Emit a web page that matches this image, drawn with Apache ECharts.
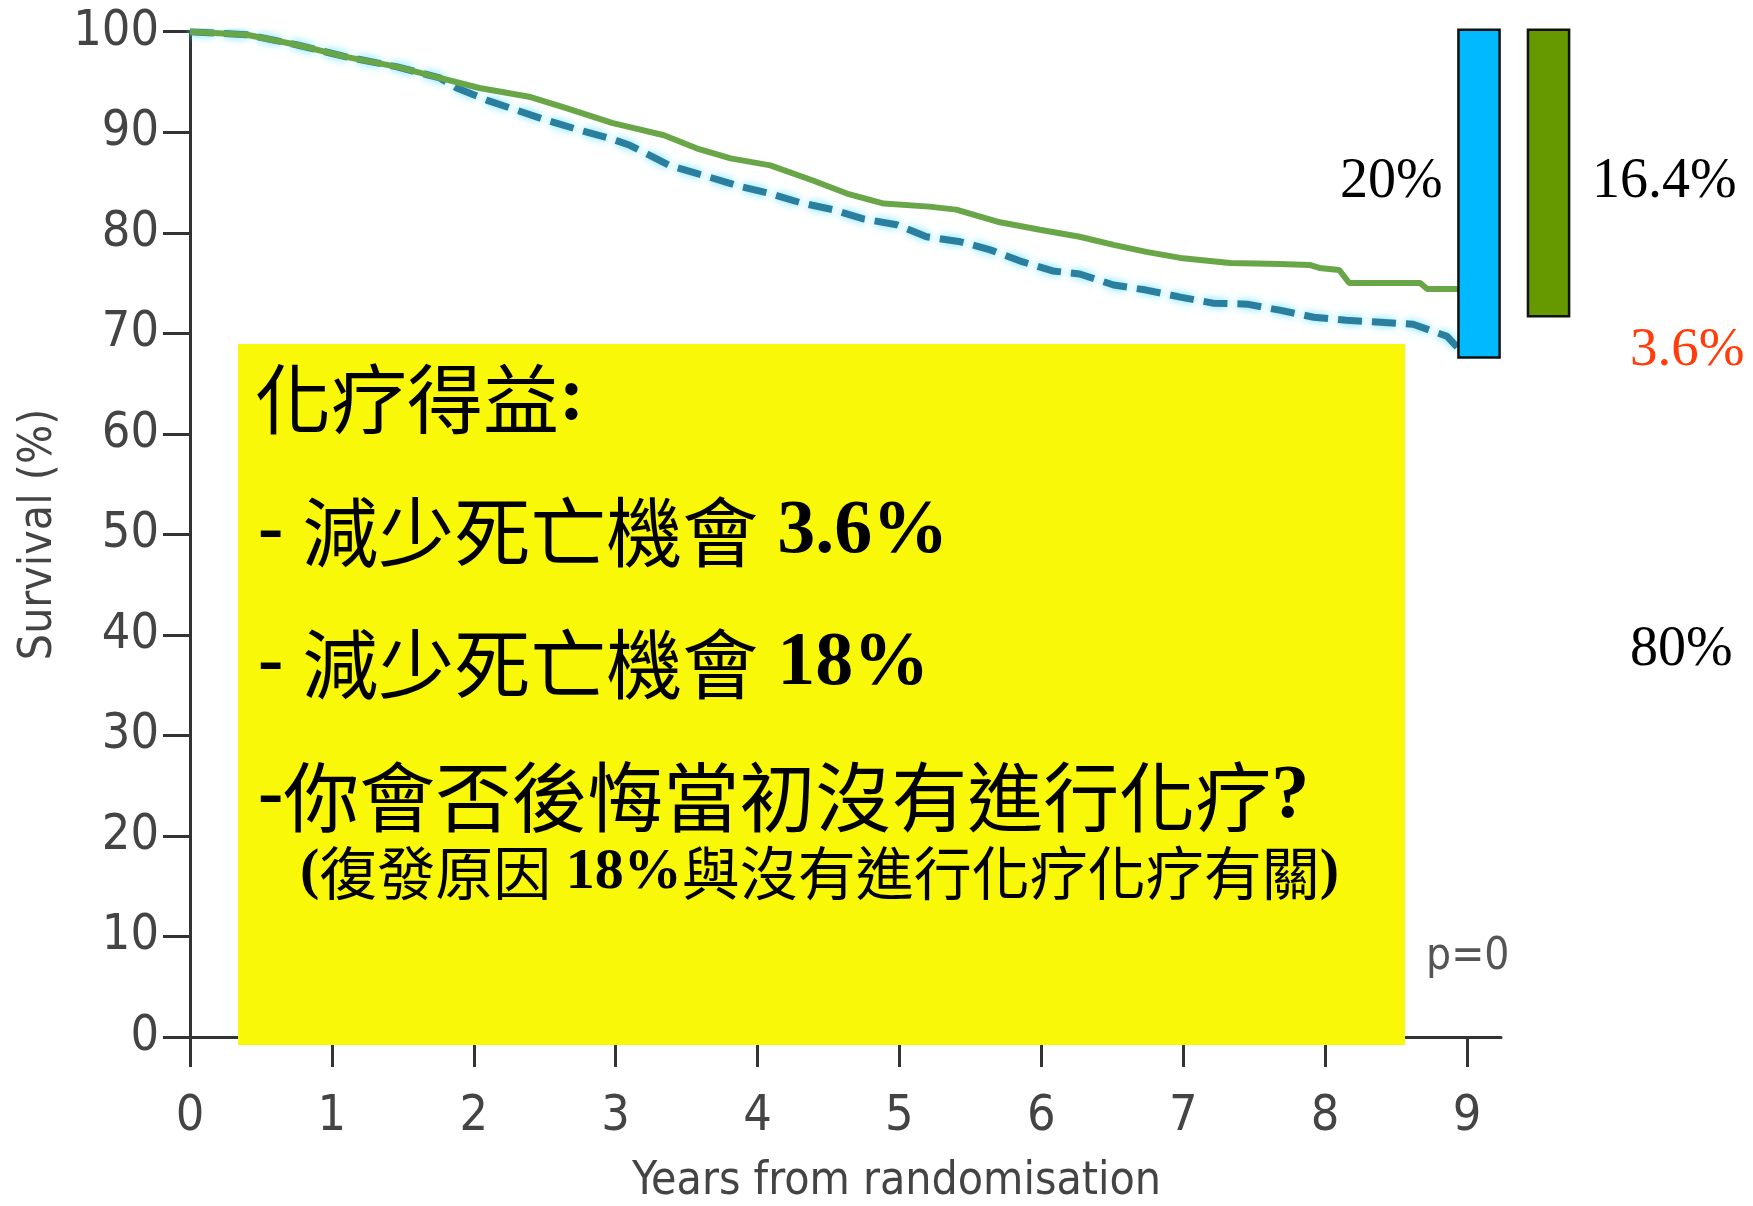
<!DOCTYPE html>
<html>
<head>
<meta charset="utf-8">
<script src="https://cdn.jsdelivr.net/npm/echarts@6/dist/echarts.min.js"></script>
<style>
html,body{margin:0;padding:0;background:#fff;}
#chart{width:1753px;height:1206px;}
</style>
</head>
<body>
<div id="chart"></div>
<script>
// ---- data ----
const xTickValues = [0, 1, 2, 3, 4, 5, 6, 7, 8, 9];
const yTickValues = [0, 10, 20, 30, 40, 50, 60, 70, 80, 90, 100];

const chemoYears = [0, 0.40, 0.75, 1.10, 1.46, 1.76, 2.04, 2.40, 2.63, 2.98, 3.10, 3.34, 3.57, 3.81, 4.09, 4.39, 4.63, 4.89, 5.21, 5.40, 5.69, 5.99, 6.27, 6.51, 6.74, 6.98, 7.33, 7.68, 7.89, 7.96, 8.10, 8.17, 8.50, 8.67, 8.72, 8.95, 9.00];
const chemoSurvival = [100, 99.7, 98.7, 97.5, 96.5, 95.4, 94.4, 93.5, 92.5, 90.9, 90.5, 89.7, 88.4, 87.4, 86.7, 85.2, 83.9, 82.9, 82.6, 82.3, 81.1, 80.3, 79.6, 78.8, 78.1, 77.5, 77.0, 76.9, 76.8, 76.5, 76.3, 75.0, 75.0, 75.0, 74.4, 74.4, 74.4];

const noChemoYears = [0, 0.40, 0.75, 1.10, 1.46, 1.76, 1.88, 2.09, 2.30, 2.51, 2.75, 2.98, 3.10, 3.38, 3.62, 3.88, 4.09, 4.30, 4.53, 4.74, 4.98, 5.19, 5.43, 5.64, 5.87, 6.08, 6.27, 6.51, 6.74, 6.98, 7.21, 7.45, 7.68, 7.92, 8.15, 8.39, 8.62, 8.74, 8.86, 8.94, 8.98];
const noChemoSurvival = [100, 99.7, 98.7, 97.5, 96.5, 95.4, 94.4, 93.2, 92.2, 91.2, 90.2, 89.3, 88.7, 86.7, 85.7, 84.6, 83.9, 83.0, 82.3, 81.4, 80.8, 79.6, 79.1, 78.3, 77.1, 76.2, 75.9, 74.8, 74.3, 73.6, 73.0, 72.9, 72.3, 71.6, 71.3, 71.1, 70.9, 70.3, 69.7, 68.5, 67.8];

const gapBarTop = [100, 100];
const gapBarBottom = [67.6, 71.7];

const annotLabels = ['20%', '16.4%', '3.6%', '80%'];
const boxLines = ['化疗得益', '減少死亡機會', '3.6%', '18%', '你會否後悔當初沒有進行化疗', '復發原因', '與沒有進行化疗化疗有關'];

// ---- layout / style ----
const NARROW = '"Liberation Sans Narrow","DejaVu Sans Condensed","Open Sans",sans-serif';
const SERIF = '"Liberation Serif","DejaVu Serif",serif';
const CJK = '"Noto Sans CJK TC","Noto Sans CJK SC",sans-serif';
const barXs = [[8.94, 9.23], [9.43, 9.72]];
const barColors = ['#00b9ff', '#669900'];

const zip = (a, b) => a.map((v, i) => [v, b[i]]);

const chart = echarts.init(document.getElementById('chart'), null, {renderer: 'canvas'});

const richBox = {
  c: {fontFamily: CJK, fontSize: 76, color: '#000', lineHeight: 90},
  b: {fontFamily: SERIF, fontWeight: 'bold', fontSize: 76, color: '#000', lineHeight: 90},
  cs: {fontFamily: CJK, fontSize: 58, color: '#000', lineHeight: 70},
  bs: {fontFamily: SERIF, fontWeight: 'bold', fontSize: 58, color: '#000', lineHeight: 70}
};

function boxText(x, y, text) {
  return {type: 'text', z: 110, x: x, y: y,
    style: {text: text, rich: richBox, verticalAlign: 'middle', align: 'left', fill: '#000'}};
}
function plainText(x, y, text, size, color, family) {
  return {type: 'text', z: 110, x: x, y: y,
    style: {text: text, fontSize: size, fontFamily: family, fill: color, verticalAlign: 'middle', align: 'left'}};
}

const option = {
  animation: false,
  backgroundColor: '#fff',
  grid: {left: 190, right: 252, top: 31.7, bottom: 169, containLabel: false, outerBoundsMode: 'none'},
  xAxis: {
    type: 'value', min: 0, max: 9.24, interval: 1,
    axisLine: {show: true, lineStyle: {color: '#333', width: 3}},
    axisTick: {show: true, length: 30, lineStyle: {color: '#333', width: 3}, customValues: xTickValues},
    axisLabel: {customValues: xTickValues, fontSize: 50, color: '#444', fontFamily: NARROW, margin: 55},
    splitLine: {show: false},
    name: 'Years from randomisation', nameLocation: 'middle', nameGap: 122,
    nameTextStyle: {fontSize: 46, color: '#444', fontFamily: NARROW, padding: [0, 0, 0, 102]}
  },
  yAxis: {
    type: 'value', min: 0, max: 100, interval: 10,
    axisLine: {show: true, lineStyle: {color: '#333', width: 3}},
    axisTick: {show: true, length: 27, lineStyle: {color: '#333', width: 3}},
    axisLabel: {fontSize: 50, color: '#444', fontFamily: NARROW, margin: 31},
    splitLine: {show: false},
    name: 'Survival (%)', nameLocation: 'middle', nameGap: 110,
    nameTextStyle: {fontSize: 46, color: '#444', fontFamily: NARROW}
  },
  series: [
    {
      type: 'line', name: 'No chemotherapy', data: zip(noChemoYears, noChemoSurvival),
      symbol: 'none', z: 2,
      lineStyle: {color: '#2a7f9e', width: 7, type: [24, 10], shadowColor: 'rgba(110,225,255,1)', shadowBlur: 8}
    },
    {
      type: 'line', name: 'Chemotherapy', data: zip(chemoYears, chemoSurvival),
      symbol: 'none', z: 3,
      lineStyle: {color: '#68a648', width: 6}
    },
    {
      type: 'custom', name: 'gap bars', clip: false, z: 5,
      data: gapBarBottom.map((b, i) => [barXs[i][0], barXs[i][1], gapBarTop[i], b]),
      renderItem: function (params, api) {
        const p0 = api.coord([api.value(0), api.value(2)]);
        const p1 = api.coord([api.value(1), api.value(3)]);
        return {
          type: 'rect',
          shape: {x: p0[0], y: p0[1] - 2, width: p1[0] - p0[0], height: p1[1] - p0[1] + 2},
          style: {fill: barColors[params.dataIndex], stroke: '#111', lineWidth: 2.5}
        };
      }
    }
  ],
  graphic: [
    {type: 'rect', z: 100, shape: {x: 238, y: 344, width: 1167, height: 701}, style: {fill: '#f8f808'}},
    boxText(255, 399, '{c|' + boxLines[0] + '}{b|:}'),
    boxText(258, 532, '{b|- }{c|' + boxLines[1] + '}{b| ' + boxLines[2] + '}'),
    boxText(258, 664, '{b|- }{c|' + boxLines[1] + '}{b| ' + boxLines[3] + '}'),
    boxText(258, 797, '{b|-}{c|' + boxLines[4] + '}{b|?}'),
    boxText(300, 873, '{bs|(}{cs|' + boxLines[5] + '}{bs| 18%}{cs|' + boxLines[6] + '}{bs|)}'),
    plainText(1340, 182, annotLabels[0], 56, '#000', SERIF),
    plainText(1592, 182, annotLabels[1], 56, '#000', SERIF),
    plainText(1630, 351, annotLabels[2], 55, '#ff3c0a', SERIF),
    plainText(1630, 650, annotLabels[3], 56, '#000', SERIF),
    plainText(1426, 958, 'p=0', 44, '#555', NARROW)
  ]
};
chart.setOption(option);
</script>
</body>
</html>
